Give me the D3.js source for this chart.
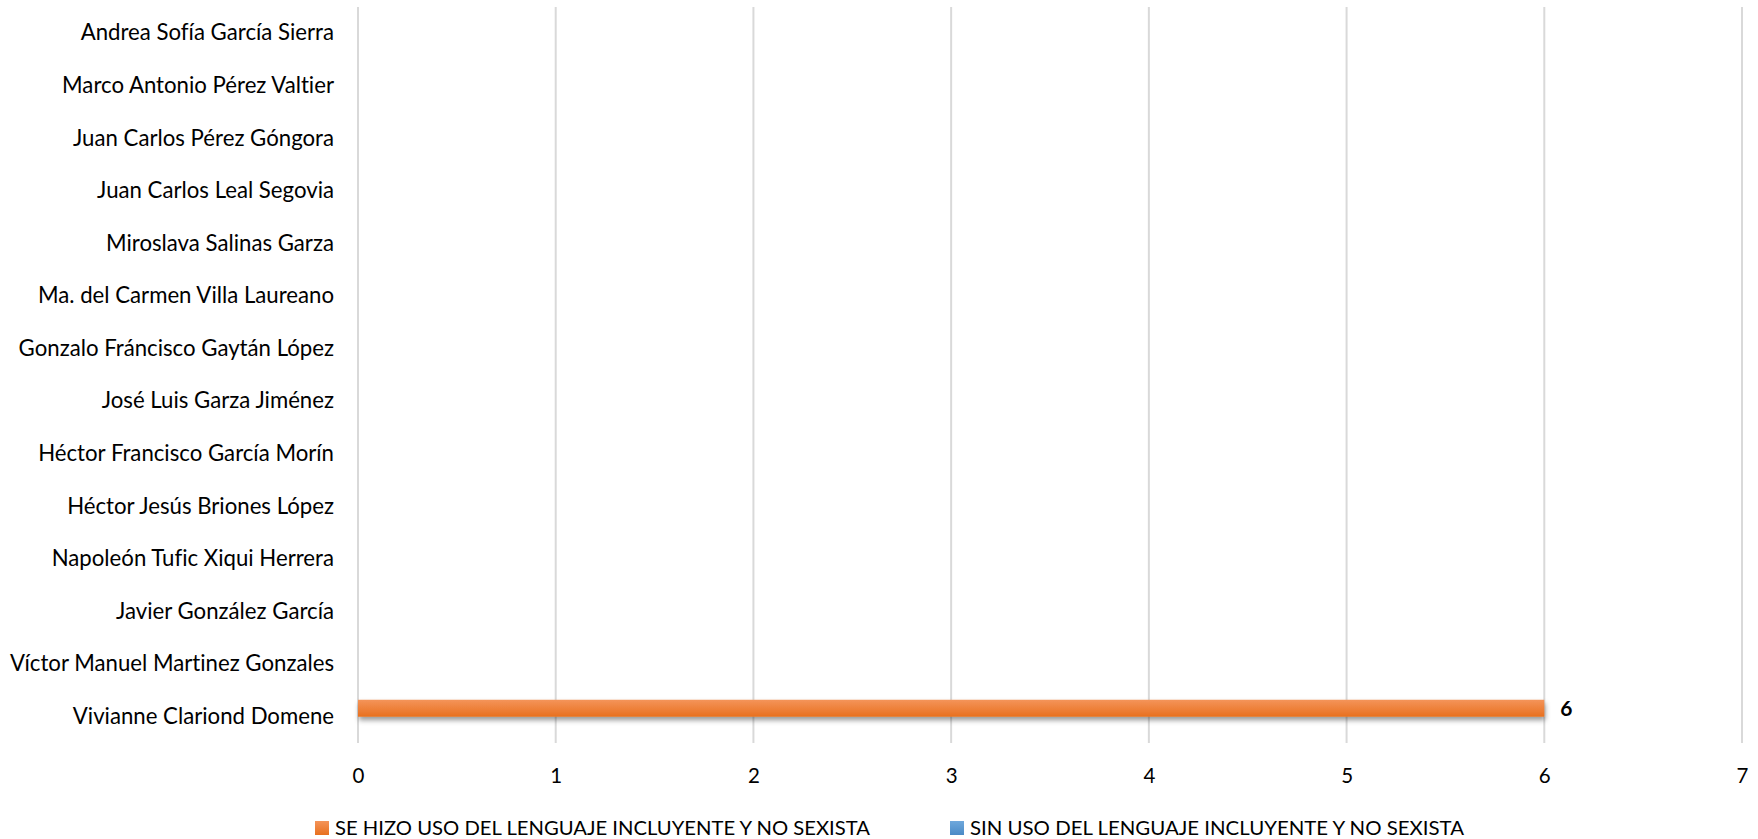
<!DOCTYPE html>
<html><head><meta charset="utf-8">
<script src="https://cdn.jsdelivr.net/npm/d3@7"></script>
<style>body{margin:0;background:#fff}svg{display:block}text{font-variant-ligatures:none;font-feature-settings:"liga" 0,"clig" 0}</style>
</head><body>
<svg id="c" width="1758" height="839"></svg>
<script>
const categories = ["Andrea Sofía García Sierra","Marco Antonio Pérez Valtier","Juan Carlos Pérez Góngora","Juan Carlos Leal Segovia","Miroslava Salinas Garza","Ma. del Carmen Villa Laureano","Gonzalo Fráncisco Gaytán López","José Luis Garza Jiménez","Héctor Francisco García Morín","Héctor Jesús Briones López","Napoleón Tufic Xiqui Herrera","Javier González García","Víctor Manuel Martinez Gonzales","Vivianne Clariond Domene"];
const seriesNames = ["SE HIZO USO DEL LENGUAJE INCLUYENTE Y NO SEXISTA","SIN USO DEL LENGUAJE INCLUYENTE Y NO SEXISTA"];
const usoValues = [0,0,0,0,0,0,0,0,0,0,0,0,0,6];
const sinUsoValues = [0,0,0,0,0,0,0,0,0,0,0,0,0,0];
const xTicks = [0,1,2,3,4,5,6,7];

const svg = d3.select("#c");
const font = "Lato, 'Open Sans', sans-serif";
const x = d3.scaleLinear().domain([0,7]).range([358,1742]);
const y = d3.scaleBand().domain(categories).range([7,743]);
const y1 = d3.scaleBand().domain(seriesNames).range([0,y.bandwidth()]).paddingInner(0).paddingOuter(0.55);

const defs = svg.append("defs");
[["gO","#F4945A","#E8701E"],["gB","#6FA8DC","#4A8AC6"]].forEach(([id,a,b])=>{
  const g = defs.append("linearGradient").attr("id",id).attr("x1",0).attr("y1",0).attr("x2",0).attr("y2",1);
  g.append("stop").attr("offset","0%").attr("stop-color",a);
  g.append("stop").attr("offset","100%").attr("stop-color",b);
});
const f = defs.append("filter").attr("id","sh").attr("x","-5%").attr("y","-50%").attr("width","110%").attr("height","250%");
f.append("feDropShadow").attr("dx",1).attr("dy",3.5).attr("stdDeviation",2.6).attr("flood-color","#000").attr("flood-opacity",0.4);

// gridlines
svg.append("g").selectAll("line").data(xTicks).join("line")
  .attr("x1",d=>x(d)).attr("x2",d=>x(d)).attr("y1",7).attr("y2",743)
  .attr("stroke","#D9D9D9").attr("stroke-width",2);

// x axis
const xa = svg.append("g").attr("transform","translate(0,743)")
  .call(d3.axisBottom(x).tickValues(xTicks).tickSize(0).tickPadding(25).tickFormat(d3.format("d")));
xa.select(".domain").remove();
xa.selectAll("text").attr("font-family",font).attr("font-size",20.5).attr("fill","#000");

// y axis
const ya = svg.append("g").attr("transform","translate(358,0)")
  .call(d3.axisLeft(y).tickSize(0).tickPadding(24));
ya.select(".domain").remove();
ya.selectAll("text").attr("font-family",font).attr("font-size",22.2).attr("fill","#000");

// bars
const data = [];
categories.forEach((c,i)=>{
  data.push({c, s:seriesNames[0], v:usoValues[i], fill:"url(#gO)"});
  data.push({c, s:seriesNames[1], v:sinUsoValues[i], fill:"url(#gB)"});
});
svg.append("g").selectAll("rect").data(data.filter(d=>d.v>0)).join("rect")
  .attr("x",x(0)).attr("y",d=>y(d.c)+y1(d.s))
  .attr("width",d=>x(d.v)-x(0)).attr("height",y1.bandwidth())
  .attr("fill",d=>d.fill).attr("filter","url(#sh)");

// labels
svg.append("g").selectAll("text").data(data.filter(d=>d.v>0)).join("text")
  .attr("x",d=>x(d.v)+16).attr("y",d=>y(d.c)+y1(d.s)+y1.bandwidth()/2)
  .attr("dy","0.35em").attr("font-family",font).attr("font-weight","bold").attr("font-size",21)
  .text(d=>d.v);

// legend
const leg = [{n:seriesNames[0],fill:"url(#gO)",x:315,w:535},{n:seriesNames[1],fill:"url(#gB)",x:950,w:494}];
const lg = svg.append("g").selectAll("g").data(leg).join("g");
lg.append("rect").attr("x",d=>d.x).attr("y",821).attr("width",14).attr("height",14).attr("fill",d=>d.fill);
lg.append("text").attr("x",d=>d.x+20).attr("y",835)
  .attr("font-family",font).attr("font-size",19.5)
  .attr("textLength",d=>d.w).attr("lengthAdjust","spacingAndGlyphs").text(d=>d.n);
</script>
</body></html>
